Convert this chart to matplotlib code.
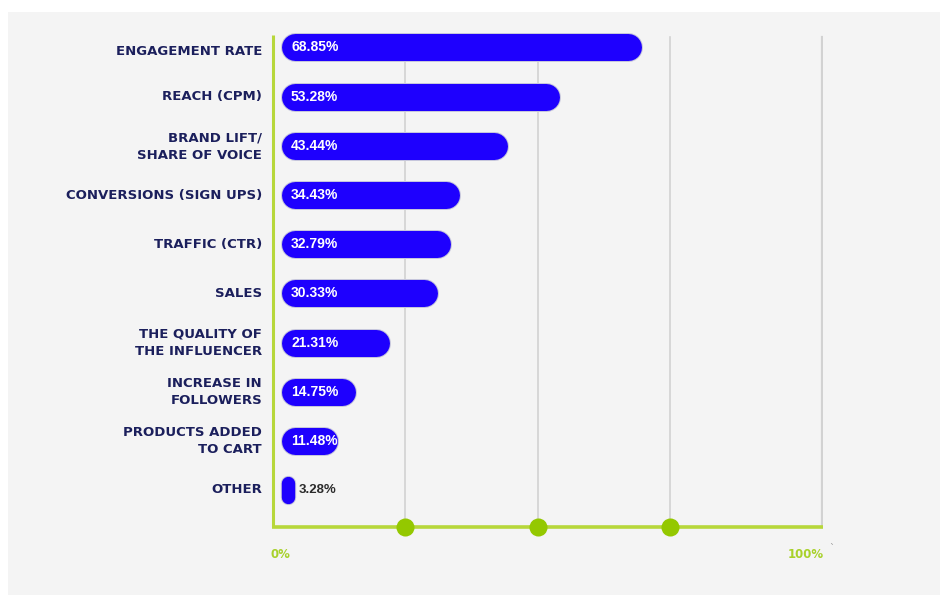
import matplotlib
matplotlib.use("Agg")
import matplotlib.pyplot as plt
from matplotlib.patches import Rectangle

categories = ["ENGAGEMENT RATE", "REACH (CPM)", "BRAND LIFT/\nSHARE OF VOICE",
              "CONVERSIONS (SIGN UPS)", "TRAFFIC (CTR)", "SALES",
              "THE QUALITY OF\nTHE INFLUENCER", "INCREASE IN\nFOLLOWERS",
              "PRODUCTS ADDED\nTO CART", "OTHER"]
values = [68.85, 53.28, 43.44, 34.43, 32.79, 30.33, 21.31, 14.75, 11.48, 3.28]
value_labels = ["68.85%", "53.28%", "43.44%", "34.43%", "32.79%", "30.33%",
                "21.31%", "14.75%", "11.48%", "3.28%"]
grid_ticks = [25, 50, 75]
end_labels = ["0%", "100%"]

W, H = 940, 595
DPI = 100
fig = plt.figure(figsize=(W / DPI, H / DPI), dpi=DPI)
fig.patch.set_facecolor("white")
fig.patches.append(Rectangle((8 / W, 0), 1 - 8 / W, 1 - 12 / H, transform=fig.transFigure,
                             facecolor="#f4f4f4", edgecolor="none", zorder=-5))

ax_l, ax_r, ax_b, ax_t = 272, 823, 527, 22
ax = fig.add_axes([ax_l / W, 1 - ax_b / H, (ax_r - ax_l) / W, (ax_b - ax_t) / H])
ax.set_facecolor("none")
ax.set_zorder(2)

sx = 5.3          # px per percent
zero_px = 272.5
x0 = (ax_l - zero_px) / sx
x1 = (ax_r - zero_px) / sx
ax.set_xlim(x0, x1)
row_px = 49.2
first_px = 47.5
y_top = (first_px - ax_t) / row_px
ybot = (ax_b - ax_t) / row_px - y_top
ax.set_ylim(ybot, -y_top)

for s in ax.spines.values():
    s.set_visible(False)
ax.set_xticks([])
ax.set_yticks([])

green_line = "#b7d73a"
green_dot = "#94c800"
top_left = (35 - first_px) / row_px
top_grid = (37 - first_px) / row_px
ax.plot([x0 + 0.2, x0 + 0.2], [ybot, top_left], color=green_line, lw=2.2,
        solid_capstyle="butt", zorder=3, clip_on=False)
ax.plot([x0, x1], [ybot, ybot], color=green_line, lw=2.6, zorder=3, clip_on=False,
        solid_capstyle="butt")
for t in grid_ticks:
    ax.plot([t, t], [ybot, top_grid], color="#d2d2d2", lw=1.2, zorder=1)
    ax.plot([t], [ybot], "o", color=green_dot, ms=13, mec="none", zorder=4, clip_on=False)
ax.plot([x1 - 0.15, x1 - 0.15], [ybot, top_grid], color="#d2d2d2", lw=1.6, zorder=1)

# pill-shaped bars drawn as round-capped lines
px2pt = 72 / DPI
bar_h_px = 27
bar_start = (281 - zero_px) / sx
end_off = 4.5 / sx
bar_col = "#1e00fe"
edge_col = "#c6c6dc"
val_font = ["Liberation Sans", "DejaVu Sans"]
for i, (v, lab) in enumerate(zip(values, value_labels)):
    xs, xe = bar_start, v + end_off
    wpx = (xe - xs) * sx
    if wpx >= bar_h_px:
        r = bar_h_px / 2 / sx
        xx, yy, lw = [xs + r, xe - r], [i, i], bar_h_px
    else:
        half = (bar_h_px - wpx) / 2 / row_px
        xm = (xs + xe) / 2
        xx, yy, lw = [xm, xm], [i - half, i + half], wpx
    ax.plot(xx, yy, color=edge_col, lw=(lw + 2) * px2pt, solid_capstyle="round", zorder=4)
    ax.plot(xx, yy, color=bar_col, lw=lw * px2pt, solid_capstyle="round", zorder=5)
    if v > 8:
        ax.text(xs + 10 / sx, i, lab, color="white", fontsize=10, fontweight="bold",
                family=val_font, va="center", ha="left", zorder=6)
    else:
        ax.text(xe + 4 / sx, i, lab, color="#2b2b2b", fontsize=9.5, fontweight="bold",
                family=val_font, va="center", ha="left", zorder=6)

# category labels
label_dy = [4, 0, 1, 0, 0, 0, 0, 0, 0, -1]
for i, c in enumerate(categories):
    fig.text(262 / W, 1 - (first_px + i * row_px + label_dy[i]) / H, c, ha="right", va="center",
             multialignment="right", fontsize=9.5, fontweight="bold", color="#1b1f5c",
             linespacing=1.45)

fig.text(280 / W, 1 - 554 / H, end_labels[0], ha="center", va="center", fontsize=8.5,
         fontweight="bold", color="#a8d12a")
fig.text(806 / W, 1 - 554 / H, end_labels[1], ha="center", va="center", fontsize=8.5,
         fontweight="bold", color="#a8d12a")
fig.text(832 / W, 1 - 549 / H, "`", ha="center", va="center", fontsize=7, color="#999999")

fig.savefig("out.png", dpi=DPI, facecolor="white")
